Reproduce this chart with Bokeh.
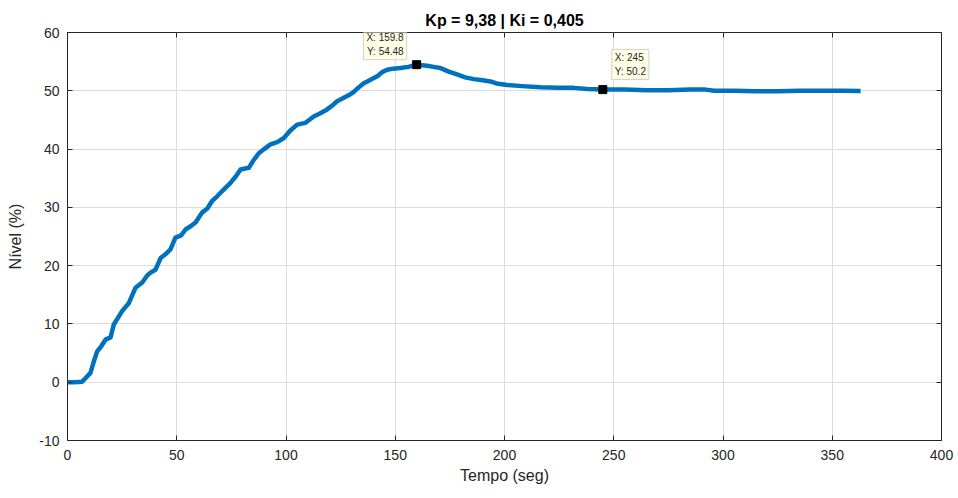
from bokeh.plotting import figure
from bokeh.models import Range1d, FixedTicker, LinearAxis, Label, CustomJSTickFormatter
from bokeh.embed import file_html
from bokeh.resources import INLINE

tempo = [0, 3, 6.7, 8, 10.5, 12, 13.6, 15.5, 17.4, 19.7, 21.2, 23, 25, 28.1, 31.1, 34.2, 36.5, 38, 40.3,
         42.6, 45, 47.1, 49.4, 52, 54, 56.5, 58.6, 61.6, 64, 66.2, 68.5, 70.8, 74.6, 77, 79.2, 83, 85,
         87.6, 90, 92.9, 96, 99, 102, 105.1, 108.9, 112.7, 115.5, 118.8, 121, 123.4, 126, 129.5, 131,
         133, 135.6, 137.2, 140.2, 141.8, 144, 146.3, 149, 152.4, 156, 159.8, 164.6, 167.5, 170.7,
         174.5, 178.3, 182, 186, 190, 193.6, 197, 201.3, 208, 216.5, 224, 231.7, 238, 245, 255, 265,
         275, 285, 292, 296, 305, 315, 325, 335, 345, 355, 363]
nivel = [0, 0, 0.1, 0.6, 1.6, 3.5, 5.3, 6.2, 7.3, 7.7, 9.9, 11, 12.2, 13.6, 16.2, 17.1, 18.3, 18.8, 19.3,
         21.3, 22, 22.8, 24.8, 25.2, 26.2, 26.8, 27.4, 29.1, 29.8, 31.1, 31.9, 32.8, 34.2, 35.3, 36.5,
         36.8, 38, 39.3, 40, 40.8, 41.2, 41.9, 43.2, 44.2, 44.5, 45.6, 46.1, 46.8, 47.4, 48.2, 48.7,
         49.4, 49.8, 50.5, 51.3, 51.6, 52.2, 52.5, 53.2, 53.6, 53.8, 53.9, 54.1, 54.48, 54.3, 54.1,
         53.9, 53.3, 52.8, 52.3, 52, 51.8, 51.6, 51.2, 51.0, 50.8, 50.6, 50.5, 50.5, 50.3, 50.2, 50.2,
         50.1, 50.1, 50.2, 50.2, 50.0, 50.0, 49.9, 49.9, 50.0, 50.0, 50.0, 49.95]

tip_x = [159.8, 245]
tip_y = [54.48, 50.2]
tip_text = ["X: 159.8\nY: 54.48", "X: 245\nY: 50.2"]

x_ticks = [0, 50, 100, 150, 200, 250, 300, 350, 400]
y_ticks = [-10, 0, 10, 20, 30, 40, 50, 60]

title_text = "Kp = 9,38 | Ki = 0,405"
x_label = "Tempo (seg)"
y_label = "Nível (%)"

FONT = "Liberation Sans"
AX = "#262626"

p = figure(frame_width=874, frame_height=408, output_backend="svg", toolbar_location=None,
           x_range=Range1d(0, 400), y_range=Range1d(-10, 60),
           min_border_left=67, min_border_right=17, min_border_top=32, min_border_bottom=58)
p.outline_line_color = AX
p.outline_line_width = 1
p.background_fill_color = "white"
p.border_fill_color = "white"

p.title.text = title_text
p.title.align = "center"
p.title.text_font = FONT
p.title.text_font_size = "16px"
p.title.text_font_style = "bold"
p.title.text_color = "black"
p.title.standoff = 7

fmt = CustomJSTickFormatter(code="return tick.toString();")
for ax in p.xaxis + p.yaxis:
    ax.major_tick_in = 5
    ax.major_tick_out = 0
    ax.minor_tick_line_color = None
    ax.axis_line_color = None
    ax.major_tick_line_color = AX
    ax.major_label_text_color = AX
    ax.major_label_text_font = FONT
    ax.major_label_text_font_size = "14px"
    ax.axis_label_text_font = FONT
    ax.axis_label_text_font_size = "16px"
    ax.axis_label_text_font_style = "normal"
    ax.axis_label_text_color = AX
    ax.formatter = fmt
p.xaxis.ticker = FixedTicker(ticks=x_ticks)
p.yaxis.ticker = FixedTicker(ticks=y_ticks)
p.xaxis.axis_label = x_label
p.yaxis.axis_label = y_label
p.xaxis.major_label_standoff = 9
p.yaxis.major_label_standoff = 8
p.xaxis.axis_label_standoff = 4
p.yaxis.axis_label_standoff = 12

top = LinearAxis(ticker=FixedTicker(ticks=x_ticks), major_label_text_font_size="0px",
                 major_tick_in=5, major_tick_out=0, minor_tick_line_color=None,
                 axis_line_color=None, major_tick_line_color=AX, major_label_standoff=0)
right = LinearAxis(ticker=FixedTicker(ticks=y_ticks), major_label_text_font_size="0px",
                   major_tick_in=5, major_tick_out=0, minor_tick_line_color=None,
                   axis_line_color=None, major_tick_line_color=AX, major_label_standoff=0)
p.add_layout(top, "above")
p.add_layout(right, "right")

p.xgrid.ticker = FixedTicker(ticks=x_ticks)
p.ygrid.ticker = FixedTicker(ticks=y_ticks)
p.grid.grid_line_color = "#dcdcdc"
p.grid.grid_line_width = 1

p.line(tempo, nivel, line_color="#0072BD", line_width=4.5, line_join="round")
p.scatter(tip_x, tip_y, marker="square", size=8, fill_color="black", line_color="black")

offs = [(-10, 5, "right"), (9, 10, "left")]
for tx, ty, tt, (xo, yo, al) in zip(tip_x, tip_y, tip_text, offs):
    p.add_layout(Label(x=tx, y=ty, x_offset=xo, y_offset=yo, text=tt, text_align=al,
                       text_baseline="bottom", text_font=FONT, text_font_size="10px",
                       text_color="#262626", background_fill_color="#ffffe6",
                       border_line_color="#d2d2c8", padding=3, text_line_height=1.2))

open("out.html", "w").write(file_html(p, INLINE))
